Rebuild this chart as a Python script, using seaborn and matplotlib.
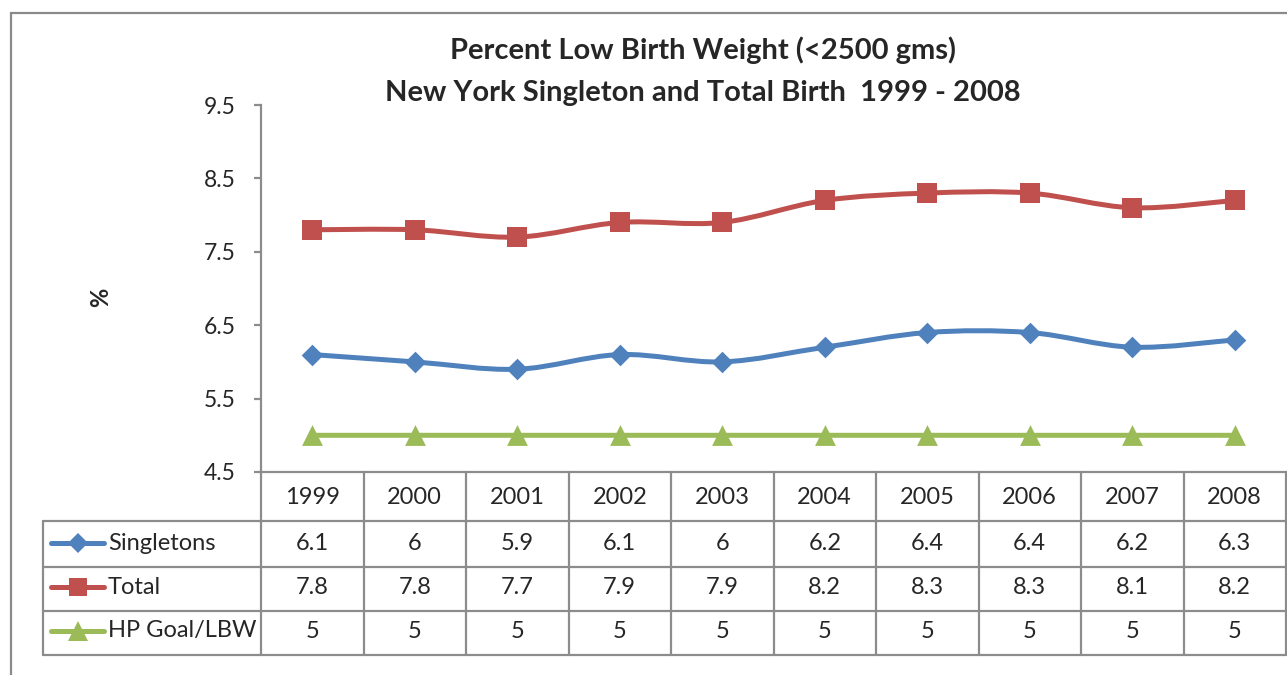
import numpy as np
import pandas as pd
import matplotlib.pyplot as plt
import seaborn as sns
from matplotlib.path import Path
from matplotlib.patches import PathPatch, Rectangle
from matplotlib.lines import Line2D

# Data
years = ['1999', '2000', '2001', '2002', '2003', '2004', '2005', '2006', '2007', '2008']
singletons = [6.1, 6, 5.9, 6.1, 6, 6.2, 6.4, 6.4, 6.2, 6.3]
total = [7.8, 7.8, 7.7, 7.9, 7.9, 8.2, 8.3, 8.3, 8.1, 8.2]
hp_goal = [5, 5, 5, 5, 5, 5, 5, 5, 5, 5]
series_names = ['Singletons', 'Total', 'HP Goal/LBW']
y_ticks = [4.5, 5.5, 6.5, 7.5, 8.5, 9.5]

colors = ['#4F81BD', '#C0504D', '#9BBB59']
markers = ['D', 's', '^']
msizes = [11, 14, 15]
grid_gray = '#8c8c8c'

sns.set_style('white')
plt.rcParams['font.family'] = ['Lato', 'DejaVu Sans']

# long-form table for seaborn
df = pd.DataFrame({'Year': years * 3,
                   'pos': list(range(len(years))) * 3,
                   'Series': np.repeat(series_names, len(years)),
                   'Value': singletons + total + hp_goal})

W, H = 1287, 675
fig = plt.figure(figsize=(W / 100, H / 100), dpi=100)
ax = fig.add_axes([261 / W, 1 - 472 / H, 1025 / W, 367 / H])


def smooth_path(xs, ys):
    # Excel-style smoothed line: cubic bezier through the points
    pts = np.column_stack([xs, ys]).astype(float)
    ext = np.vstack([pts[0], pts, pts[-1]])
    verts = [pts[0]]
    codes = [Path.MOVETO]
    for i in range(len(pts) - 1):
        p0, p1, p2, p3 = ext[i], ext[i + 1], ext[i + 2], ext[i + 3]
        verts += [p1 + (p2 - p0) / 6, p2 - (p3 - p1) / 6, p2]
        codes += [Path.CURVE4] * 3
    return Path(verts, codes)


for name, col, mk, ms in zip(series_names, colors, markers, msizes):
    sub = df[df['Series'] == name]
    ax.add_patch(PathPatch(smooth_path(sub['pos'], sub['Value']), facecolor='none',
                           edgecolor=col, lw=3.6, capstyle='round', joinstyle='round', zorder=2))
    sns.scatterplot(data=sub, x='pos', y='Value', marker=mk, color=col, s=ms ** 2,
                    linewidth=0, ax=ax, legend=False, zorder=3)

ax.set_xlim(-0.5, len(years) - 0.5)
ax.set_ylim(4.5, 9.5)
ax.set_yticks(y_ticks)
ax.set_yticklabels([f'{t:g}' for t in y_ticks], fontsize=16.5)
ax.set_xticks([])
ax.set_xlabel('')
ax.set_ylabel('')
for s in ['top', 'right']:
    ax.spines[s].set_visible(False)
for s in ['left', 'bottom']:
    ax.spines[s].set_color(grid_gray)
    ax.spines[s].set_linewidth(1.6)
ax.tick_params(axis='y', left=True, length=5, width=1.6, color=grid_gray, pad=13)

# data table underneath the plot area (pixel layout helpers)
def ax_x(px):
    return (px - 261) / 1025


def ax_y(py):
    return (472 - py) / 367


row_edges = [472, 521, 567, 611, 655]
line_kw = dict(color=grid_gray, lw=1.6, clip_on=False, transform=ax.transAxes)
for py in row_edges[1:]:
    ax.add_line(Line2D([ax_x(43), ax_x(1286)], [ax_y(py)] * 2, **line_kw))
ax.add_line(Line2D([ax_x(43)] * 2, [ax_y(521), ax_y(655)], **line_kw))
for i in range(len(years) + 1):
    xa = i / len(years)
    ax.add_line(Line2D([xa, xa], [0, ax_y(655)], **line_kw))

tfs = 17
for i, yr in enumerate(years):
    xa = (i + 0.5) / len(years)
    ax.text(xa, ax_y(497), yr, ha='center', va='center', fontsize=tfs, transform=ax.transAxes)
    for r, vals in enumerate([singletons, total, hp_goal]):
        ax.text(xa, ax_y([544, 588, 632][r]), f'{vals[i]:g}', ha='center', va='center',
                fontsize=tfs, transform=ax.transAxes)

for r, (name, col, mk, ms) in enumerate(zip(series_names, colors, markers, msizes)):
    yc = ax_y([543, 587, 631][r])
    ax.add_line(Line2D([ax_x(51), ax_x(104)], [yc, yc], color=col, lw=3.6,
                       solid_capstyle='round', clip_on=False, transform=ax.transAxes))
    ax.add_line(Line2D([ax_x(77.5)], [yc], marker=mk, markersize=ms * 0.95, color=col,
                       markeredgewidth=0, clip_on=False, transform=ax.transAxes))
    ax.text(ax_x(108), yc, name, ha='left', va='center', fontsize=tfs, transform=ax.transAxes)

# titles
fig.text(703 / W, 1 - 50 / H, 'Percent Low Birth Weight (<2500 gms)', ha='center', va='center',
         fontsize=21, fontweight='bold')
fig.text(703 / W, 1 - 93 / H, 'New York Singleton and Total Birth  1999 - 2008', ha='center',
         va='center', fontsize=21, fontweight='bold')
fig.text(101 / W, 1 - 297 / H, '%', rotation=90, ha='center', va='center', fontsize=17,
         fontweight='bold')

# outer chart border
fig.patches.append(Rectangle((11 / W, -0.1), 1.2, 1.1 - 13 / H, transform=fig.transFigure,
                             facecolor='none', edgecolor='#8a8a8a', lw=1.6))

fig.savefig('out.png', dpi=100)
